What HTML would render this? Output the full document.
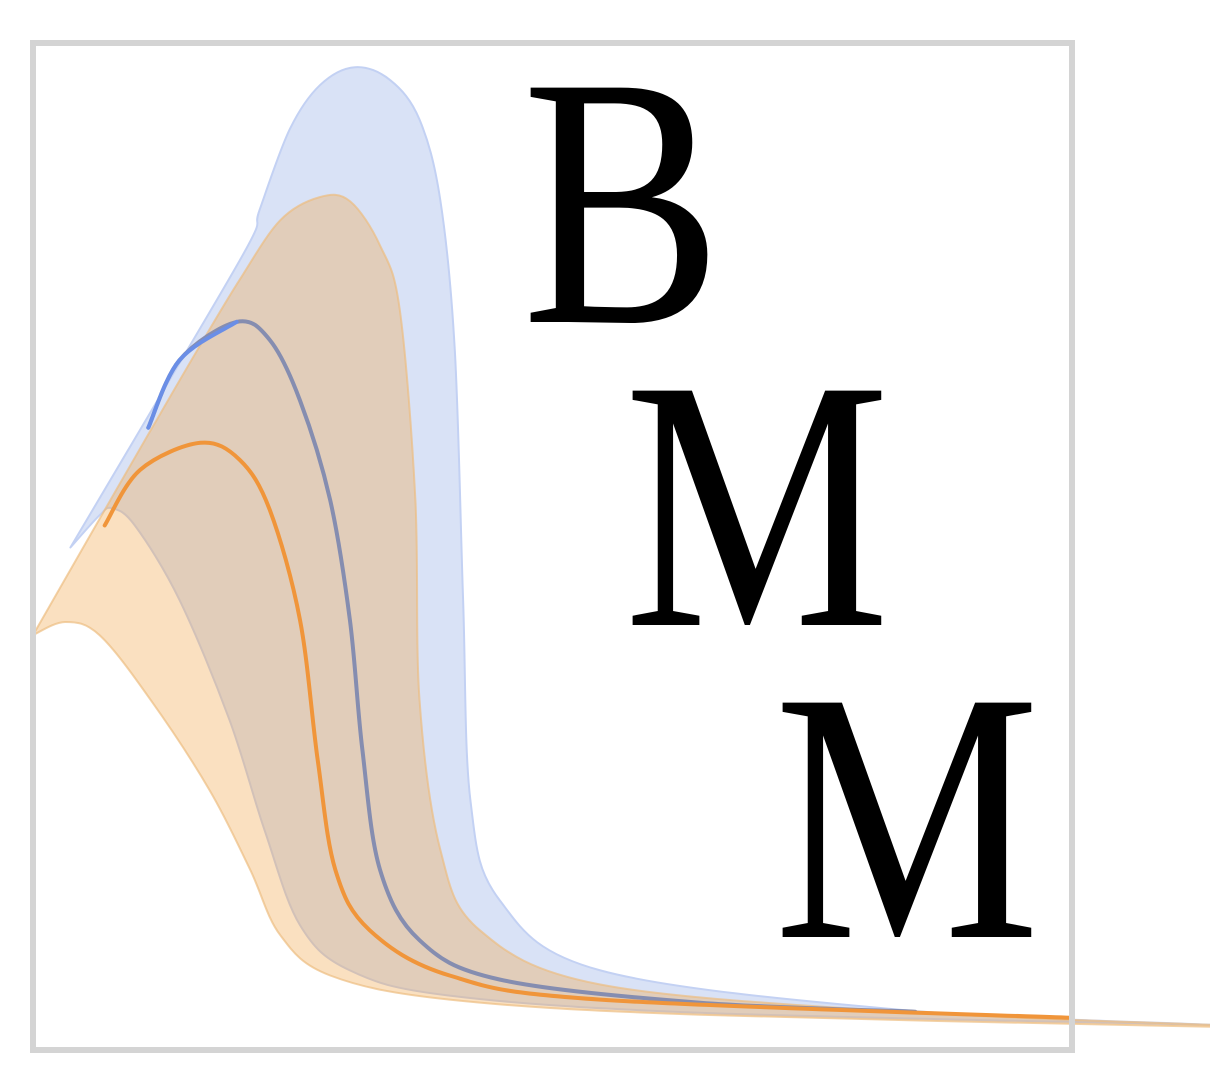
<!DOCTYPE html>
<html><head><meta charset="utf-8"><style>
html,body{margin:0;padding:0;background:#fff;width:1210px;height:1078px;overflow:hidden}
svg{display:block}
</style></head><body>
<svg id="chart" width="1210" height="1078" viewBox="0 0 1210 1078" xmlns="http://www.w3.org/2000/svg">
<g id="layers"></g>
<rect x="33" y="43" width="1039" height="1007" fill="none" stroke="#d4d4d4" stroke-width="6"/>
<text x="522" y="322" font-family="'Liberation Serif', serif" font-size="358" textLength="200" lengthAdjust="spacingAndGlyphs" fill="#000">B</text>
<text x="624" y="625" font-family="'Liberation Serif', serif" font-size="358" textLength="266" lengthAdjust="spacingAndGlyphs" fill="#000">M</text>
<text x="774" y="937" font-family="'Liberation Serif', serif" font-size="358" textLength="266" lengthAdjust="spacingAndGlyphs" fill="#000">M</text>
</svg>
<script>
const blueUpperX=[3.6,12.2,20.7,21.8,24.7,27.6,31,34.4,37.2,39.2,40.6,41.4,42.1,44.9,54.6,83.4,113.3];
const blueUpperY=[49.9,64.9,79.9,83.4,91.4,95.8,97.6,96.3,92.4,84.4,69.5,44.7,24.8,14.9,7.9,4.0,2.5];
const blueLowerX=[3.6,6.4,7.6,9.8,14.1,18.9,22.3,25.7,30.5,40.1,64.2,113.3];
const blueLowerY=[49.9,53.1,53.8,52.1,44.7,32.8,21.8,12.4,7.9,5.4,3.7,2.5];
const orangeUpperX=[0,8,12.2,16.1,19.9,23.8,27.6,30.5,33.4,35.3,36.8,37.2,39.2,43,54.6,83.4,113.3];
const orangeUpperY=[41.2,55.6,63.1,70,76.5,82.4,84.7,84.3,79.9,73.5,54.6,34.8,19.9,11.9,6.5,3.8,2.5];
const orangeLowerX=[0,3.1,6.4,11.3,17,20.9,23.8,28.6,40.1,64.2,113.3];
const orangeLowerY=[41.2,42.5,41.2,34.8,25.8,17.9,11.4,7.4,5,3.5,2.3];
const blueLineX=[11.1,14.1,19.6,22.8,25.7,28.6,30.5,31.7,33.4,37.2,44.9,64.2,84.9];
const blueLineY=[61.8,68.5,72.3,70.5,64.5,54.6,42.7,29.8,17.9,10.9,7,4.7,3.8];
const orangeLineX=[6.9,10.3,16.1,19.9,22.8,25.7,27.4,29.1,32.4,40.1,54.6,99.8];
const orangeLineY=[52.1,57.6,60.3,58.6,53.6,42.7,28.8,17.9,11.9,7.4,5,3.2];

const xS=v=>33+v*10.39, yS=v=>1050-v*10.07;
function pts(xs,ys){return xs.map((x,i)=>[xS(x),yS(ys[i])]);}
function cr(p){let d='';for(let i=0;i<p.length-1;i++){const p0=p[i-1]||p[i],p1=p[i],p2=p[i+1],p3=p[i+2]||p2;
 const c1=[p1[0]+(p2[0]-p0[0])/6,p1[1]+(p2[1]-p0[1])/6],c2=[p2[0]-(p3[0]-p1[0])/6,p2[1]-(p3[1]-p1[1])/6];
 d+=(i?'':'M'+p1[0].toFixed(1)+','+p1[1].toFixed(1))+'C'+c1.map(n=>n.toFixed(1))+' '+c2.map(n=>n.toFixed(1))+' '+p2.map(n=>n.toFixed(1));}return d;}
function band(ux,uy,lx,ly){const u=pts(ux,uy),l=pts(lx,ly).reverse();const lp=cr(l).replace(/^M/,'L');return cr(u)+lp+'Z';}
const g=document.getElementById('layers');const NS='http://www.w3.org/2000/svg';
function add(d,fill,stroke,sw,op){const e=document.createElementNS(NS,'path');e.setAttribute('d',d);e.setAttribute('fill',fill);e.setAttribute('stroke',stroke);e.setAttribute('stroke-width',sw);if(op)e.setAttribute('fill-opacity',op);e.setAttribute('stroke-linecap','round');e.setAttribute('stroke-linejoin','round');g.appendChild(e);return e;}
let e;
e=add(band(blueUpperX,blueUpperY,blueLowerX,blueLowerY),'#d9e2f6','#c3d1f3',2);


e=add(band(orangeUpperX,orangeUpperY,orangeLowerX,orangeLowerY),'rgb(240,165,70)','rgba(236,190,130,0.7)',2,0.34);


e=add(cr(pts(blueLineX,blueLineY)),'none','#858db0',4);


e=add(cr(pts(blueLineX.slice(0,3),blueLineY.slice(0,3))),'none','#6a8ee6',4);


e=add(cr(pts(orangeLineX,orangeLineY)),'none','#f0953a',4);


</script>
</body></html>
